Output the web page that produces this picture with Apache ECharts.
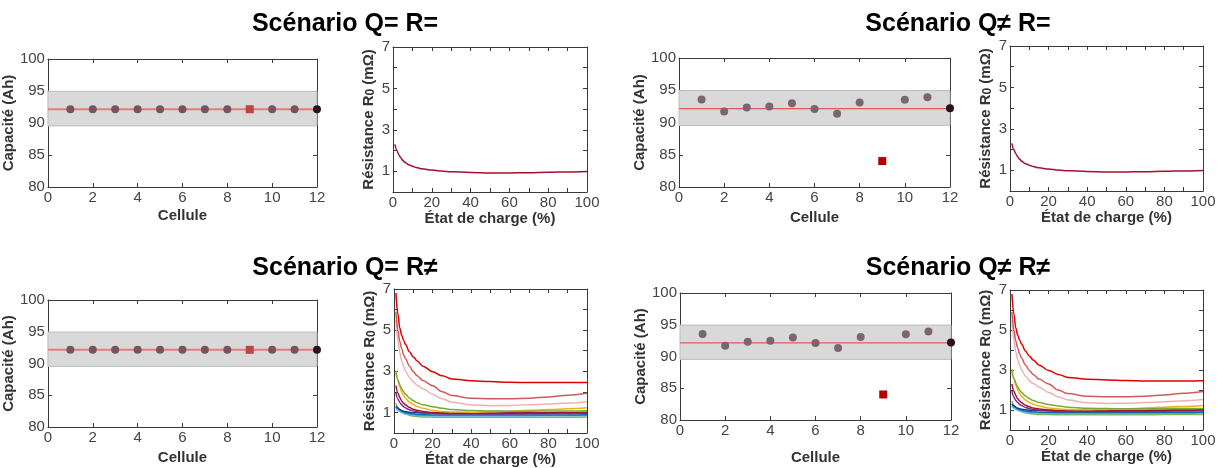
<!DOCTYPE html>
<html><head><meta charset="utf-8">
<script src="https://cdn.jsdelivr.net/npm/echarts@6/dist/echarts.min.js"></script>
<style>html,body{margin:0;padding:0;background:#fff}#c{width:1225px;height:468px}</style>
</head><body><div id="c"></div>
<script>
// ---------- DATA ----------
const titles = ['Scénario Q= R=', 'Scénario Q≠ R=', 'Scénario Q= R≠', 'Scénario Q≠ R≠'];
const cells = [1, 2, 3, 4, 5, 6, 7, 8, 9, 10, 11, 12];
const capEqual = [92.15, 92.15, 92.15, 92.15, 92.15, 92.15, 92.15, 92.15, 92.15, 92.15, 92.15, 92.15];
const capDiff = [93.56, 91.7, 92.32, 92.47, 92.99, 92.11, 91.34, 93.09, 84.02, 93.51, 93.92, 92.22];
const capMean = 92.15;
const bandLow = 89.55;
const bandHigh = 94.95;
const faultyCell = 9;
const lastCell = 12;
const capTicks = [80, 85, 90, 95, 100];
const socTicks = [0, 20, 40, 60, 80, 100];
const rTicks = [1, 3, 5, 7];

const soc = [1, 2, 3, 4, 5, 6, 8, 10, 12, 15, 20, 25, 30, 40, 50, 60, 70, 80, 90, 100];
const rSame = [2.3, 2.0, 1.8, 1.65, 1.53, 1.44, 1.32, 1.24, 1.18, 1.12, 1.06, 1.01, 0.98, 0.94, 0.92, 0.92, 0.93, 0.95, 0.97, 0.99];
const rRed = [6.8, 5.8, 5.1, 4.75, 4.5, 4.3, 3.95, 3.7, 3.5, 3.25, 2.98, 2.78, 2.63, 2.54, 2.5, 2.47, 2.45, 2.45, 2.45, 2.46];
const rMidRed = [5.9, 5.0, 4.45, 4.1, 3.8, 3.6, 3.25, 2.98, 2.78, 2.55, 2.3, 2.0, 1.82, 1.69, 1.66, 1.66, 1.69, 1.75, 1.84, 1.93];
const rPink = [5.5, 4.5, 3.9, 3.5, 3.22, 3.0, 2.7, 2.48, 2.32, 2.15, 1.88, 1.66, 1.5, 1.36, 1.33, 1.34, 1.37, 1.41, 1.46, 1.52];
const rYellow = [3.05, 2.55, 2.25, 2.0, 1.82, 1.68, 1.5, 1.38, 1.29, 1.2, 1.1, 1.05, 1.02, 1.01, 1.03, 1.06, 1.1, 1.14, 1.18, 1.23];
const rGreen = [2.95, 2.6, 2.35, 2.15, 2.0, 1.88, 1.7, 1.57, 1.47, 1.37, 1.28, 1.2, 1.14, 1.09, 1.07, 1.06, 1.06, 1.07, 1.07, 1.08];
const rDarkRed = [2.3, 1.95, 1.72, 1.56, 1.45, 1.36, 1.24, 1.16, 1.1, 1.05, 1.0, 0.98, 0.97, 0.96, 0.96, 0.97, 0.98, 0.99, 1.0, 1.01];
const rPurple = [1.95, 1.65, 1.48, 1.37, 1.28, 1.22, 1.13, 1.07, 1.03, 0.99, 0.95, 0.93, 0.92, 0.92, 0.92, 0.92, 0.93, 0.94, 0.95, 0.96];
const rNavy = [1.28, 1.2, 1.14, 1.09, 1.06, 1.04, 1.01, 0.99, 0.98, 0.97, 0.97, 0.97, 0.97, 0.97, 0.97, 0.97, 0.97, 0.97, 0.98, 0.98];
const rBlue = [1.3, 1.2, 1.12, 1.06, 1.02, 0.99, 0.95, 0.92, 0.9, 0.89, 0.88, 0.88, 0.88, 0.88, 0.88, 0.88, 0.88, 0.88, 0.88, 0.89];
const rLightBlue = [1.2, 1.1, 1.04, 0.99, 0.96, 0.93, 0.9, 0.87, 0.85, 0.84, 0.83, 0.83, 0.83, 0.83, 0.83, 0.83, 0.83, 0.84, 0.84, 0.85];
const rGreen2 = [1.45, 1.25, 1.12, 1.03, 0.97, 0.92, 0.86, 0.82, 0.8, 0.78, 0.77, 0.76, 0.76, 0.76, 0.76, 0.76, 0.76, 0.77, 0.77, 0.78];
const rCurves = [rGreen2, rLightBlue, rBlue, rNavy, rPurple, rDarkRed, rYellow, rGreen, rPink, rMidRed, rRed];
const rColors = ['#86b553', '#4dbeee', '#0072bd', '#1f3f8f', '#7e2f8e', '#a2142f', '#edb120', '#77ac30', '#f0b0b0', '#cc5c5c', '#dd0000'];

// ---------- LAYOUT ----------
const FONT = '"Liberation Sans", Arial, sans-serif';
const capGrids = [
  {left: 46, top: 59, width: 271, height: 128, nameGapX: 21, scen: 0},
  {left: 679, top: 58, width: 271, height: 129, nameGapX: 23, scen: 1},
  {left: 46, top: 300, width: 271, height: 127, nameGapX: 23, scen: 2},
  {left: 680, top: 293, width: 271, height: 127, nameGapX: 30, scen: 3}
];
const rGrids = [
  {left: 393, top: 47, width: 194, height: 145, multi: false},
  {left: 1010, top: 46, width: 193, height: 145, multi: false},
  {left: 394, top: 289, width: 193, height: 144, multi: true},
  {left: 1010, top: 290, width: 193, height: 140, multi: true}
];
const titlePos = [[340, 7], [953, 7], [340, 251], [953, 251]];

const grids = [], xAxes = [], yAxes = [], series = [];
const lineCol = '#3a3a3a';

function axes(gi, xmin, xmax, xint, xfmt, xname, xgap, ymin, ymax, yint, yfmt, yname, ygap, yrich) {
  const tick = {show: true, inside: true, length: 4, lineStyle: {color: lineCol}};
  const aline = {show: true, onZero: false, lineStyle: {color: lineCol, width: 1}};
  const lab = {color: '#444', fontSize: 15, fontFamily: FONT, showMinLabel: true, showMaxLabel: true};
  const nts = {fontWeight: 'bold', fontSize: 15, color: '#333', fontFamily: FONT};
  const xi = xAxes.length, yi = yAxes.length;
  xAxes.push({type: 'value', gridIndex: gi, min: xmin, max: xmax, interval: xint, position: 'bottom',
    axisLine: aline, axisTick: tick, splitLine: {show: false},
    axisLabel: Object.assign({margin: 3, formatter: xfmt}, lab),
    name: xname, nameLocation: 'middle', nameGap: xgap, nameTextStyle: nts});
  xAxes.push({type: 'value', gridIndex: gi, min: xmin, max: xmax, interval: xint, position: 'top',
    axisLine: aline, axisTick: tick, splitLine: {show: false}, axisLabel: {show: false}});
  yAxes.push({type: 'value', gridIndex: gi, min: ymin, max: ymax, interval: yint, position: 'left',
    axisLine: aline, axisTick: tick, splitLine: {show: false},
    axisLabel: Object.assign({margin: 3, formatter: yfmt}, lab),
    name: yname, nameLocation: 'middle', nameGap: ygap, nameRotate: 90,
    nameTextStyle: Object.assign({rich: yrich || {}}, nts)});
  yAxes.push({type: 'value', gridIndex: gi, min: ymin, max: ymax, interval: yint, position: 'right',
    axisLine: aline, axisTick: tick, splitLine: {show: false}, axisLabel: {show: false}});
  return [xi, yi];
}

// capacity panels
capGrids.forEach(g => {
  const gi = grids.length;
  grids.push({left: g.left, top: g.top, width: g.width, height: g.height, containLabel: false});
  const [xi, yi] = axes(gi, 0, 12, 2, v => v, 'Cellule', g.nameGapX,
    capTicks[0], capTicks[capTicks.length - 1], 5, v => v, 'Capacité (Ah)', 23);
  const eq = (g.scen === 0 || g.scen === 2);
  const caps = eq ? capEqual : capDiff;
  series.push({type: 'line', xAxisIndex: xi, yAxisIndex: yi, data: [], z: 1, silent: true,
    markArea: {silent: true, itemStyle: {color: '#d9d9d9', borderColor: '#bdbdbd', borderWidth: 1},
      data: [[{yAxis: bandLow}, {yAxis: bandHigh}]]}});
  series.push({type: 'line', xAxisIndex: xi, yAxisIndex: yi, data: [[0, capMean], [12, capMean]],
    symbol: 'none', z: 2, lineStyle: {color: eq ? '#e57c7c' : '#e45a5a', width: eq ? 2 : 1.2}});
  const pts = cells.map((c, i) => [c, caps[i]]);
  series.push({type: 'scatter', xAxisIndex: xi, yAxisIndex: yi, z: 3, symbolSize: 8,
    itemStyle: {color: eq ? '#7a5360' : '#7a6670', opacity: 1},
    data: pts.filter(d => d[0] !== faultyCell && d[0] !== lastCell)});
  series.push({type: 'scatter', xAxisIndex: xi, yAxisIndex: yi, z: 3, symbol: 'rect', symbolSize: 8,
    itemStyle: {color: eq ? '#bb4646' : '#b00000', opacity: 1},
    data: pts.filter(d => d[0] === faultyCell)});
  series.push({type: 'scatter', xAxisIndex: xi, yAxisIndex: yi, z: 4, symbolSize: 8, clip: false,
    itemStyle: {color: '#2e1020', opacity: 1},
    data: pts.filter(d => d[0] === lastCell)});
});

// resistance panels
rGrids.forEach(g => {
  const gi = grids.length;
  grids.push({left: g.left, top: g.top, width: g.width, height: g.height, containLabel: false});
  const [xi, yi] = axes(gi, 0, 100, 10, v => (socTicks.includes(v) ? v : ''), 'État de charge (%)', 18,
    0, 7, 1, v => (rTicks.includes(v) ? v : ''), 'Résistance R{s|0} (mΩ)', 17,
    {s: {fontSize: 12, fontWeight: 'bold', color: '#333', fontFamily: FONT, padding: [0, 0, -4, 0]}});
  const curves = g.multi ? rCurves : [rSame];
  const cols = g.multi ? rColors : ['#a50f2d'];
  curves.forEach((cv, k) => {
    series.push({type: 'line', xAxisIndex: xi, yAxisIndex: yi, z: 2 + k, symbol: 'none',
      smooth: 0.35, smoothMonotone: 'x',
      lineStyle: {color: cols[k], width: 1.5},
      data: soc.map((s, i) => [s, cv[i]])});
  });
});

const option = {
  animation: false,
  backgroundColor: '#fff',
  title: titles.map((t, i) => ({text: t, left: titlePos[i][0], top: titlePos[i][1], textAlign: 'center',
    textStyle: {fontSize: 25, fontWeight: 'bold', color: '#000', fontFamily: FONT}})),
  grid: grids, xAxis: xAxes, yAxis: yAxes, series: series
};
echarts.init(document.getElementById('c'), null, {renderer: 'canvas'}).setOption(option);
</script></body></html>
